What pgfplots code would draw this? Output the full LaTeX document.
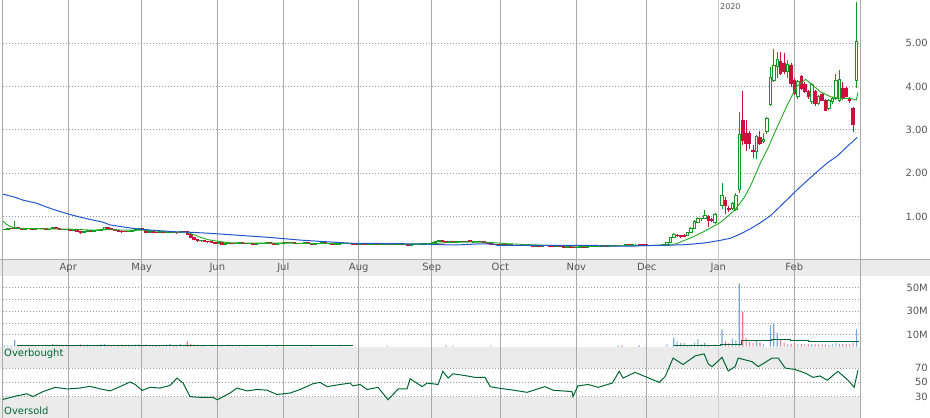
\documentclass[border=0pt]{standalone}
\usepackage{pgfplots}
\pgfplotsset{compat=1.18}
\usepackage{pgfplotstable}
\usepackage{fontspec}
\setmainfont{DejaVu Sans}
\definecolor{cgreen}{HTML}{119A22}
\definecolor{cred}{HTML}{CC0F3F}
\definecolor{magreen}{HTML}{22AA22}
\definecolor{mablue}{HTML}{2255CC}
\definecolor{volblue}{HTML}{77A7D8}
\definecolor{volpink}{HTML}{E87A96}
\definecolor{rsigreen}{HTML}{006633}
\definecolor{gridv}{HTML}{AAAAAA}
\definecolor{janc}{HTML}{CCCCCC}
\definecolor{gridd}{HTML}{999999}
\definecolor{band}{HTML}{EBEBEB}
\definecolor{lbl}{HTML}{555555}

% up candles: x open high low close
\pgfplotstableread{
x o h l c
0 .70 .72 .69 .71
1 .71 .74 .70 .73
3 .72 .90 .71 .74
6 .71 .73 .70 .72
9 .71 .73 .70 .72
10 .72 .74 .71 .73
13 .70 .72 .69 .71
14 .72 .77 .71 .76
18 .70 .72 .69 .71
20 .69 .71 .68 .70
23 .64 .67 .63 .66
24 .66 .69 .65 .68
26 .67 .69 .66 .68
27 .68 .70 .67 .69
28 .69 .72 .68 .71
29 .71 .75 .70 .74
36 .65 .68 .64 .67
37 .67 .69 .66 .68
38 .68 .71 .67 .70
39 .70 .74 .69 .73
42 .64 .66 .63 .65
45 .63 .66 .62 .65
47 .64 .65 .63 .645
48 .64 .66 .63 .65
51 .63 .67 .62 .66
57 .44 .46 .42 .45
62 .39 .41 .38 .40
64 .37 .39 .36 .38
65 .38 .40 .37 .39
67 .38 .40 .37 .39
68 .39 .41 .38 .40
71 .38 .40 .37 .39
73 .37 .39 .36 .38
74 .38 .39 .37 .385
75 .38 .40 .37 .39
76 .39 .41 .38 .40
79 .37 .39 .36 .38
80 .38 .40 .37 .39
81 .39 .42 .38 .41
83 .40 .42 .39 .41
86 .38 .40 .37 .39
87 .39 .41 .38 .40
90 .37 .39 .36 .38
91 .38 .40 .37 .39
92 .39 .41 .38 .40
96 .36 .38 .35 .37
97 .37 .39 .36 .38
98 .38 .39 .37 .38
99 .38 .40 .37 .39
103 .36 .38 .35 .37
106 .35 .37 .34 .36
107 .36 .38 .35 .37
109 .35 .37 .34 .36
110 .36 .38 .35 .37
113 .35 .37 .34 .36
114 .36 .38 .35 .37
118 .34 .36 .33 .35
119 .35 .37 .34 .36
120 .36 .38 .35 .37
121 .37 .38 .36 .375
122 .37 .39 .36 .38
123 .38 .40 .37 .39
124 .39 .41 .38 .40
125 .40 .43 .39 .42
126 .42 .46 .41 .44
129 .40 .43 .39 .42
131 .41 .43 .40 .42
132 .42 .44 .41 .43
134 .42 .44 .41 .43
136 .41 .43 .40 .42
137 .42 .44 .41 .43
144 .35 .37 .34 .36
146 .34 .36 .33 .35
148 .33 .35 .32 .34
150 .33 .36 .32 .35
154 .32 .34 .31 .33
156 .32 .34 .31 .33
157 .33 .35 .32 .34
160 .31 .33 .30 .32
163 .30 .32 .29 .31
166 .29 .31 .28 .30
167 .30 .32 .29 .31
169 .30 .32 .29 .31
170 .31 .33 .30 .32
172 .31 .33 .30 .32
173 .32 .34 .31 .33
175 .32 .34 .31 .33
176 .33 .35 .32 .34
178 .33 .35 .32 .34
179 .34 .35 .33 .34
180 .34 .36 .33 .35
182 .34 .37 .33 .36
183 .36 .37 .35 .36
187 .34 .35 .33 .345
188 .335 .35 .33 .34
189 .33 .34 .32 .335
190 .33 .35 .32 .345
191 .34 .36 .33 .35
192 .34 .41 .33 .40
193 .40 .52 .39 .51
194 .51 .62 .50 .59
198 .57 .64 .56 .63
199 .64 .75 .63 .73
200 .73 .92 .72 .88
201 .87 .99 .86 .95
202 .95 .98 .90 .96
203 .96 1.15 .94 1.03
206 .86 1.08 .84 1.04
208 1.27 1.77 1.17 1.50
211 1.20 1.33 1.16 1.31
212 1.16 1.55 1.14 1.50
213 1.62 3.42 1.55 2.90
218 2.50 2.88 2.32 2.85
220 2.73 2.92 2.70 2.78
221 2.96 3.30 2.90 3.27
222 3.59 4.46 3.55 4.22
223 4.15 4.86 4.10 4.48
224 4.46 4.79 4.20 4.63
227 4.35 4.62 4.20 4.52
230 3.77 4.15 3.72 4.11
234 3.65 4.08 3.60 4.04
236 3.62 3.80 3.58 3.77
239 3.50 3.72 3.45 3.69
240 3.66 3.76 3.60 3.72
241 3.73 4.30 3.70 4.15
242 3.69 4.38 3.65 4.17
247 4.15 5.96 3.96 5.04
}\greentab

% down candles
\pgfplotstableread{
x o h l c
2 .73 .74 .71 .72
4 .74 .75 .71 .72
5 .72 .73 .70 .71
7 .73 .74 .71 .72
8 .72 .73 .70 .71
11 .73 .74 .71 .72
12 .72 .73 .70 .70
15 .76 .77 .72 .73
16 .73 .74 .70 .71
17 .71 .72 .69 .70
19 .71 .72 .68 .69
21 .70 .71 .66 .67
22 .67 .68 .61 .64
25 .68 .69 .66 .67
30 .74 .75 .71 .72
31 .72 .73 .69 .70
32 .70 .71 .67 .69
33 .69 .70 .66 .67
34 .67 .69 .62 .66
35 .66 .67 .64 .65
40 .73 .74 .69 .70
41 .70 .71 .62 .64
43 .65 .66 .63 .64
44 .64 .65 .62 .63
46 .65 .66 .63 .64
49 .65 .66 .63 .64
50 .64 .65 .61 .63
52 .66 .68 .64 .65
53 .65 .66 .58 .60
54 .60 .61 .50 .52
55 .52 .54 .45 .47
56 .47 .49 .42 .44
58 .45 .46 .42 .43
59 .43 .44 .40 .42
60 .42 .43 .39 .41
61 .41 .42 .38 .39
63 .40 .41 .36 .37
66 .39 .40 .37 .38
69 .40 .41 .38 .39
70 .39 .40 .37 .38
72 .39 .40 .36 .37
77 .40 .41 .37 .38
78 .38 .39 .35 .37
82 .41 .42 .39 .40
84 .41 .42 .38 .39
85 .39 .40 .37 .38
88 .40 .41 .38 .39
89 .39 .40 .36 .37
93 .40 .41 .38 .39
94 .39 .40 .37 .38
95 .38 .39 .35 .36
100 .39 .40 .37 .38
101 .38 .39 .36 .37
102 .37 .38 .35 .36
104 .37 .38 .35 .36
105 .36 .37 .34 .35
108 .37 .38 .34 .35
111 .37 .38 .35 .36
112 .36 .37 .34 .35
115 .37 .38 .35 .36
116 .36 .37 .34 .35
117 .35 .36 .32 .34
127 .44 .45 .41 .42
128 .42 .43 .39 .40
130 .42 .43 .40 .41
133 .43 .44 .41 .42
135 .44 .47 .41 .42
138 .43 .44 .41 .42
139 .42 .43 .39 .40
140 .40 .41 .38 .39
141 .39 .40 .36 .37
142 .37 .38 .35 .36
143 .36 .37 .34 .35
145 .36 .37 .33 .34
147 .35 .36 .32 .33
149 .34 .35 .32 .33
151 .35 .36 .33 .34
152 .34 .35 .32 .33
153 .33 .34 .31 .32
155 .33 .34 .31 .32
158 .34 .35 .31 .32
159 .32 .33 .30 .31
161 .32 .33 .30 .31
162 .31 .32 .29 .30
164 .31 .32 .29 .30
165 .30 .31 .28 .29
168 .31 .32 .29 .30
171 .32 .33 .30 .31
174 .33 .34 .31 .32
177 .34 .35 .32 .33
181 .35 .36 .33 .34
184 .36 .37 .34 .35
185 .36 .37 .34 .35
186 .355 .36 .34 .35
195 .57 .60 .52 .56
196 .56 .58 .51 .55
197 .56 .59 .53 .55
204 1.00 1.03 .75 .92
205 .93 .96 .88 .92
209 1.38 1.45 1.05 1.27
210 1.19 1.25 1.10 1.17
214 3.23 3.90 2.65 2.77
215 2.92 3.24 2.51 2.69
216 2.92 2.98 2.55 2.69
217 2.52 2.65 2.35 2.50
219 2.82 2.97 2.65 2.69
225 4.58 4.80 4.28 4.31
226 4.54 4.77 4.30 4.35
228 4.50 4.55 4.00 4.08
229 4.15 4.20 3.80 3.85
231 4.23 4.26 3.92 3.96
232 4.04 4.10 3.85 3.88
233 3.88 3.92 3.72 3.77
235 3.88 3.92 3.55 3.62
237 3.81 3.85 3.66 3.69
238 3.69 3.72 3.44 3.46
243 3.96 4.10 3.70 3.73
244 3.96 4.00 3.75 3.77
245 3.70 3.75 3.62 3.68
246 3.50 3.52 2.96 3.12
}\redtab

% short moving average
\pgfplotstableread{
x v
-0.5 0.90
0.5 0.83
1.5 0.78
2.5 0.75
4 0.73
10 0.72
20 0.71
25 0.69
30 0.70
35 0.69
40 0.69
45 0.66
50 0.64
53 0.64
55 0.58
57 0.52
59 0.47
62 0.43
65 0.40
70 0.39
80 0.39
90 0.38
100 0.38
110 0.365
120 0.365
125 0.38
128 0.40
135 0.415
140 0.41
145 0.38
150 0.36
160 0.33
170 0.31
180 0.33
187 0.33
194.6 0.37
199.2 0.52
202.6 0.65
207.4 0.86
211.7 1.15
214.6 1.46
216.6 1.77
219.3 2.27
221.3 2.58
223.6 3.0
226.7 3.54
229.6 4.0
232.2 4.17
233.6 4.08
236.5 3.88
239.4 3.77
242.3 3.73
245.2 3.73
246.9 3.69
247.4 3.86
}\matab

% long moving average
\pgfplotstableread{
x v
-0.5 1.52
2.57 1.46
5.47 1.38
9.36 1.31
11.27 1.25
13.7 1.18
15.62 1.13
19.0 1.05
22.4 0.98
25.76 0.92
28.66 0.87
30.6 0.81
35.44 0.75
39.3 0.71
44.14 0.68
49.93 0.65
53.79 0.64
58.63 0.62
62.49 0.60
76.98 0.52
85.67 0.46
93.5 0.42
101.04 0.385
110.9 0.38
120.46 0.37
128.3 0.35
132.05 0.35
136.98 0.37
141.6 0.37
142.8 0.34
171.8 0.34
172.7 0.32
182.2 0.32
184.2 0.33
196.7 0.35
202.6 0.39
206.6 0.44
210.4 0.50
213.3 0.60
216.2 0.72
219.1 0.86
222.0 1.02
225.8 1.31
230.7 1.69
235.6 2.04
238.5 2.24
241.4 2.40
244.3 2.62
247.2 2.83
}\mbtab

% volume, up days (millions)
\pgfplotstableread{
x v
0 1.3
1 1.0
3 5.5
6 1.2
9 1.5
10 1.8
13 1.0
14 2.2
18 1.5
20 1.2
23 1.4
24 1.8
26 1.2
27 1.6
28 2.0
29 2.4
36 1.5
37 1.2
38 1.8
39 2.0
42 1.3
45 1.2
47 2.0
48 2.5
51 2.2
57 1.2
62 1.0
65 1.5
68 1.0
76 1.2
79 1.0
89 0.8
97 0.8
128 1.2
178 1.0
184 1.2
192 2.0
194 7.5
195 4.5
196 3.0
198 1.5
199 1.5
200 3.3
201 6.5
202 2.0
203 3.3
206 2.0
208 14.8
211 6.5
212 5.5
213 53.5
218 5.0
220 2.0
222 18.2
223 19.6
224 11.8
227 2.0
230 2.0
234 2.0
239 1.5
240 2.0
241 3.0
242 2.5
247 14.8
}\vupt

% volume, down days (millions)
\pgfplotstableread{
x v
2 1.0
4 1.5
5 1.2
7 1.3
8 1.0
11 1.5
12 1.2
15 1.8
16 1.5
17 1.2
19 1.3
21 1.6
22 2.0
25 1.2
30 1.5
31 1.3
32 1.2
33 1.0
34 1.8
35 1.2
40 1.5
41 2.0
43 1.0
44 1.2
46 1.0
49 1.2
50 1.5
52 1.5
53 4.5
54 2.5
55 2.0
56 1.5
58 1.0
60 1.2
63 1.0
66 0.8
70 1.0
111 1.0
130 1.0
141 1.0
179 1.2
186 1.0
197 3.3
204 1.5
209 4.5
210 3.0
214 29.8
215 7.7
216 4.0
217 3.5
219 3.7
225 6.5
226 3.7
228 2.5
229 3.0
231 2.5
232 2.0
233 2.0
235 2.5
236 2.0
237 2.0
238 2.0
243 2.5
244 2.0
245 2.0
246 3.0
}\vdnt

% RSI
\pgfplotstableread{
x r
-0.5 26
1.6 28.6
3.6 31
6.5 34
8.3 30
11.2 37
14.7 43
18.1 40.7
21.9 42
24.8 44.4
27.7 41
30.6 38
33.5 44
36.4 50.5
37.9 47
39.9 38.7
42.2 43
45.1 42
48 45.6
50 56
51.8 49
53.8 30
56.7 29
60.5 29
61.7 25.6
65.4 35
67.4 42
70.4 38
73.2 40
76.1 39
79 33
82.8 35
85.7 40
89.4 48
91.5 50
93.5 44
97.3 47
100.2 49
101 45
103.1 47
105.1 40
108.3 43
111.2 25.6
114.1 40.7
116.7 41
117.6 55
121.1 44
122.5 49
125.7 47
127.1 65.5
128.6 56
130 62
133.5 59.5
136.4 57
139.3 57
140.8 44
143.1 42
148 38.7
151.5 36
156.7 44
159 39
164.5 37
164.8 30
166.2 45
169.2 47
172.1 43
176.2 49
178.2 65.5
179.3 56
182.8 64
186.3 57
189.8 50
191.5 58
193.8 84
196.7 75
200.2 87
202.8 90
204 76
205.1 72
208 85
209.8 66
211.8 72
212.7 84
216.7 79
218.5 72
222.5 84
224.3 84
226.3 70
229.2 68
232.1 63
234.4 57
236.4 59
238.5 53
241.6 65.5
244.5 53
246.3 43
247.4 67
}\rsitab

\pgfplotsset{
  panel/.style={
    scale only axis, width=857.6bp, anchor=south west,
    xmin=-0.5, xmax=248.08,
    axis line style={draw=none}, tick style={draw=none},
    xtick={-0.5,18.51,39.79,61.7,80.83,102.69,123.85,143.73,165.76,186.17,228.95,248.08},
    xticklabels={},
    extra x ticks={206.92}, extra x tick labels={},
    extra x tick style={grid=major, x grid style={draw=janc}},
    xmajorgrids, x grid style={draw=gridv, line width=1bp, solid},
    ymajorgrids, y grid style={draw=gridd, line width=1bp, dash pattern=on 1bp off 2bp},
    yticklabel pos=right,
    yticklabel style={anchor=east, inner sep=0pt, xshift=67.7bp,
      font=\fontsize{10}{12}\selectfont, text=lbl},
  },
  over/.style={scale only axis, width=857.6bp, anchor=south west,
    xmin=-0.5, xmax=248.08, hide axis},
}

\begin{document}
\begin{tikzpicture}
\path[use as bounding box] (0bp,0bp) rectangle (930bp,418bp);
% month strip and RSI bands
\fill[band] (0bp,142bp) rectangle (930bp,158.7bp);
\draw[gridv, line width=1bp] (0bp,158.7bp) -- (930bp,158.7bp);
\fill[band] (0bp,49.7bp) rectangle (860.3bp,71.3bp);
\fill[band] (0bp,0bp) rectangle (860.3bp,21.3bp);

% price panel: grid and wicks
\begin{axis}[panel, at={(2.7bp,158.7bp)}, height=259.3bp,
  ymin=0.016, ymax=6,
  ytick={1,2,3,4,5}, yticklabels={1.00,2.00,3.00,4.00,5.00}]
\addplot[quiver={u=0,v=\thisrow{h}-\thisrow{l}}, draw=cgreen, line width=1bp]
  table[x=x,y=l]{\greentab};
\addplot[quiver={u=0,v=\thisrow{h}-\thisrow{l}}, draw=cred, line width=1bp]
  table[x=x,y=l]{\redtab};
\end{axis}

% up bodies (hollow)
\begin{axis}[over, at={(2.7bp,158.7bp)}, height=259.3bp, ymin=0.016, ymax=6,
  ybar stacked, bar width=2.5bp]
\addplot[draw=none, fill=none] table[x=x, y=o]{\greentab};
\addplot[draw=cgreen, fill=white, line width=0.9bp]
  table[x=x, y expr=\thisrow{c}-\thisrow{o}]{\greentab};
\end{axis}

% down bodies (filled)
\begin{axis}[over, at={(2.7bp,158.7bp)}, height=259.3bp, ymin=0.016, ymax=6,
  ybar stacked, bar width=2.5bp]
\addplot[draw=none, fill=none] table[x=x, y=c]{\redtab};
\addplot[draw=cred, fill=cred, line width=0.9bp]
  table[x=x, y expr=\thisrow{o}-\thisrow{c}]{\redtab};
\end{axis}

% moving averages
\begin{axis}[over, at={(2.7bp,158.7bp)}, height=259.3bp, ymin=0.016, ymax=6]
\addplot[magreen, line width=0.9bp] table[x=x,y=v]{\matab};
\addplot[mablue, line width=1bp] table[x=x,y=v]{\mbtab};
\end{axis}

% month strip
\begin{axis}[panel, at={(2.7bp,142bp)}, height=16.7bp, ymin=0, ymax=1, ytick=\empty]
\foreach \xx/\mm in {18.51/Apr,39.79/May,61.7/Jun,80.83/Jul,102.69/Aug,123.85/Sep,143.73/Oct,165.76/Nov,186.17/Dec,206.92/Jan,228.95/Feb}{
  \edef\temp{\noexpand\node[anchor=base, font=\noexpand\fontsize{10}{12}\noexpand\selectfont, text=lbl] at (axis cs:\xx,0.30) {\mm};}
  \temp
}
\end{axis}

% volume
\begin{axis}[panel, at={(2.7bp,71.3bp)}, height=70.7bp, ymin=0, ymax=60,
  ytick={10,20,30,40,50}, yticklabels={10M,,30M,,50M}]
\addplot[ybar, bar width=1.1bp, bar shift=0pt, fill=volblue, draw=none] table[x=x,y=v]{\vupt};
\addplot[ybar, bar width=1.1bp, bar shift=0pt, fill=volpink, draw=none] table[x=x,y=v]{\vdnt};
\addplot[rsigreen, line width=1bp] coordinates {(3.6,1.2) (101.1,1.2)};
\addplot[rsigreen, line width=1bp, const plot] coordinates {(194.1,1.2) (207.7,2.1) (213.5,5.5) (222.2,6.4) (227.8,5.5) (233,4.7) (242,4.1) (247.8,4.1)};
\end{axis}

% RSI
\begin{axis}[panel, at={(2.7bp,0bp)}, height=71.3bp, ymin=0, ymax=100,
  ytick={30,50,70}, yticklabels={30,50,70}]
\addplot[rsigreen, line width=1bp] table[x=x,y=r]{\rsitab};
\end{axis}

\node[anchor=west, inner sep=0pt, font=\fontsize{10}{12}\selectfont, text=rsigreen] at (4bp,64.7bp) {Overbought};
\node[anchor=west, inner sep=0pt, font=\fontsize{10}{12}\selectfont, text=rsigreen] at (4bp,7bp) {Oversold};
\node[anchor=west, inner sep=0pt, font=\fontsize{8}{9}\selectfont, text=lbl] at (720bp,411.8bp) {2020};
\end{tikzpicture}
\end{document}
